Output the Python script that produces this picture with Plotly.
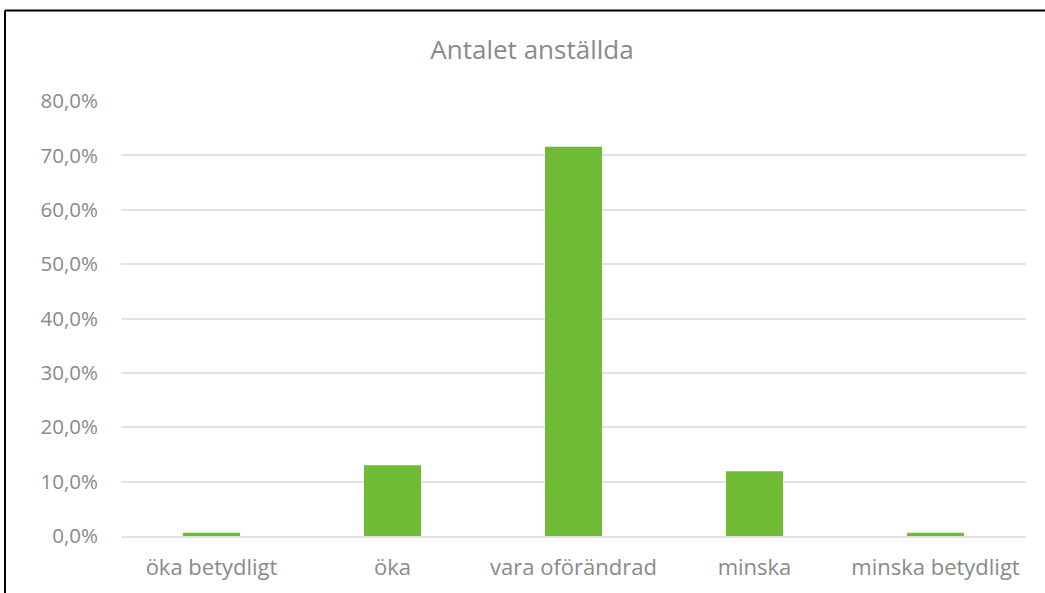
import plotly.graph_objects as go

categories = ["öka betydligt", "öka", "vara oförändrad", "minska", "minska betydligt"]
values = [0.6, 13.0, 71.6, 11.9, 0.6]
y_ticks = [0, 10, 20, 30, 40, 50, 60, 70, 80]
y_tick_labels = [f"{v:.1f}".replace(".", ",") + "%" for v in y_ticks]

W, H = 1045, 593
L, R, T, B = 121, 19, 101, 54
pw, ph = W - L - R, H - T - B

def px(x):
    return (x - L) / pw

def py(y):
    return (H - B - y) / ph

FONT = "Open Sans"
GREY = "#8a8a8a"

fig = go.Figure(go.Bar(x=categories, y=values, marker=dict(color="#70bb35", line=dict(width=0))))

fig.update_layout(
    width=W, height=H,
    margin=dict(l=L, r=R, t=T, b=B),
    paper_bgcolor="white", plot_bgcolor="white",
    bargap=0.685,
    font=dict(family=FONT, color=GREY, size=20),
    title=dict(text="Antalet anställda", x=532 / W, xanchor="center", xref="container",
               y=1 - 50 / H, yanchor="middle", yref="container",
               font=dict(family=FONT, size=26, color=GREY)),
    showlegend=False,
    shapes=[
        dict(type="line", xref="paper", yref="paper", x0=px(5), x1=px(1060), y0=py(10), y1=py(10),
             line=dict(color="black", width=2)),
        dict(type="line", xref="paper", yref="paper", x0=px(5), x1=px(5), y0=py(10), y1=py(610),
             line=dict(color="black", width=2)),
    ],
)
fig.update_yaxes(range=[0, 80], tickvals=y_ticks, ticktext=y_tick_labels,
                 showgrid=True, gridcolor="#e2e2e2", gridwidth=1.5, zeroline=False,
                 showline=False, ticks="", ticklabelstandoff=22, tickfont=dict(size=20.5))
fig.update_xaxes(showline=True, linecolor="#e2e2e2", linewidth=1.5, ticks="", ticklabelstandoff=11,
                 tickfont=dict(size=22))

fig.write_html("out.html", config={"displayModeBar": False},
               post_script="document.body.style.margin='0';")
